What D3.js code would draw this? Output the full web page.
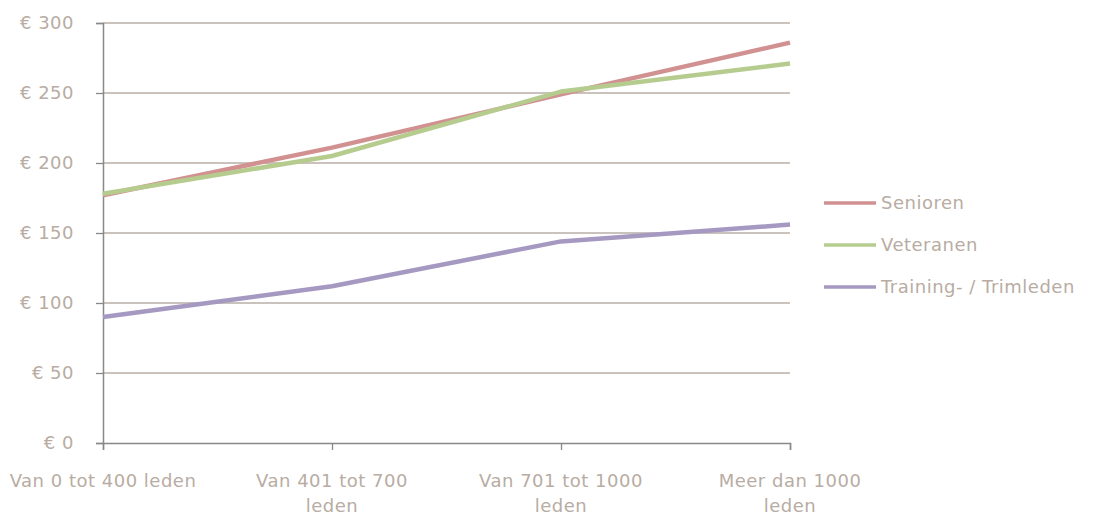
<!DOCTYPE html>
<html>
<head>
<meta charset="utf-8">
<script src="https://cdn.jsdelivr.net/npm/d3@7"></script>
<style>
  body { margin: 0; background: #fff; }
  text { font-family: "DejaVu Sans", sans-serif; fill: #b8aca3; letter-spacing: 0.5px; }
</style>
</head>
<body>
<script>
// categories and series
var categories = [['Van 0 tot 400 leden'], ['Van 401 tot 700', 'leden'], ['Van 701 tot 1000', 'leden'], ['Meer dan 1000', 'leden']];
var seriesNames = ['Senioren', 'Veteranen', 'Training- / Trimleden'];
var seriesColors = ['#d19191', '#b6cc8f', '#a599c2'];
var senioren = [177, 211, 249, 286];
var veteranen = [178, 205, 251, 271];
var training = [90, 112, 144, 156];
var yTicks = [0, 50, 100, 150, 200, 250, 300];

var series = [senioren, veteranen, training];

var width = 1093, height = 515;
var fontSize = '18px';
var svg = d3.select('body').append('svg')
  .attr('width', width)
  .attr('height', height);

// plot area
var x = d3.scalePoint().domain(d3.range(categories.length)).range([103, 790]);
var y = d3.scaleLinear().domain([0, 300]).range([443, 23]);

// gridlines
svg.append('g').selectAll('line')
  .data(yTicks.filter(function(d){ return d > 0; }))
  .enter().append('line')
  .attr('x1', 103).attr('x2', 790)
  .attr('y1', function(d){ return y(d); })
  .attr('y2', function(d){ return y(d); })
  .attr('stroke', '#b9aea6')
  .attr('stroke-width', 1.3);

// y axis
var yAxis = svg.append('g')
  .attr('transform', 'translate(103,0)')
  .call(d3.axisLeft(y).tickValues(yTicks).tickSize(7).tickPadding(22)
    .tickFormat(function(d){ return '\u20ac ' + d; }));
yAxis.select('.domain').attr('stroke', '#888').attr('stroke-width', 1.5);
yAxis.selectAll('.tick line').attr('stroke', '#888').attr('stroke-width', 1.3);
yAxis.selectAll('.tick text').style('font-size', fontSize).attr('fill', '#b8aca3');

// x axis
var xAxis = svg.append('g')
  .attr('transform', 'translate(0,443)')
  .call(d3.axisBottom(x).tickSize(7).tickFormat(''));
xAxis.select('.domain').attr('stroke', '#888').attr('stroke-width', 1.5);
xAxis.selectAll('.tick line').attr('stroke', '#888').attr('stroke-width', 1.3);

// category labels, wrapped
svg.append('g').selectAll('text')
  .data(categories)
  .enter().append('text')
  .attr('text-anchor', 'middle')
  .style('font-size', fontSize)
  .attr('transform', function(d, i){ return 'translate(' + x(i) + ',487)'; })
  .each(function(d){
    var t = d3.select(this);
    d.forEach(function(line, k){
      t.append('tspan').attr('x', 0).attr('dy', k === 0 ? 0 : 25).text(line);
    });
  });

// lines
var line = d3.line()
  .x(function(d, i){ return x(i); })
  .y(function(d){ return y(d); });

svg.append('g').selectAll('path')
  .data(series)
  .enter().append('path')
  .attr('d', line)
  .attr('fill', 'none')
  .attr('stroke', function(d, i){ return seriesColors[i]; })
  .attr('stroke-width', 4.5)
  .attr('stroke-linejoin', 'round');

// legend
var legend = svg.append('g').selectAll('g')
  .data(seriesNames)
  .enter().append('g')
  .attr('transform', function(d, i){ return 'translate(824,' + (203 + i * 42) + ')'; });
legend.append('line')
  .attr('x1', 0).attr('x2', 52)
  .attr('stroke', function(d, i){ return seriesColors[i]; })
  .attr('stroke-width', 3.5);
legend.append('text')
  .attr('x', 57).attr('dy', '0.35em')
  .style('font-size', fontSize)
  .text(function(d){ return d; });
</script>
</body>
</html>
